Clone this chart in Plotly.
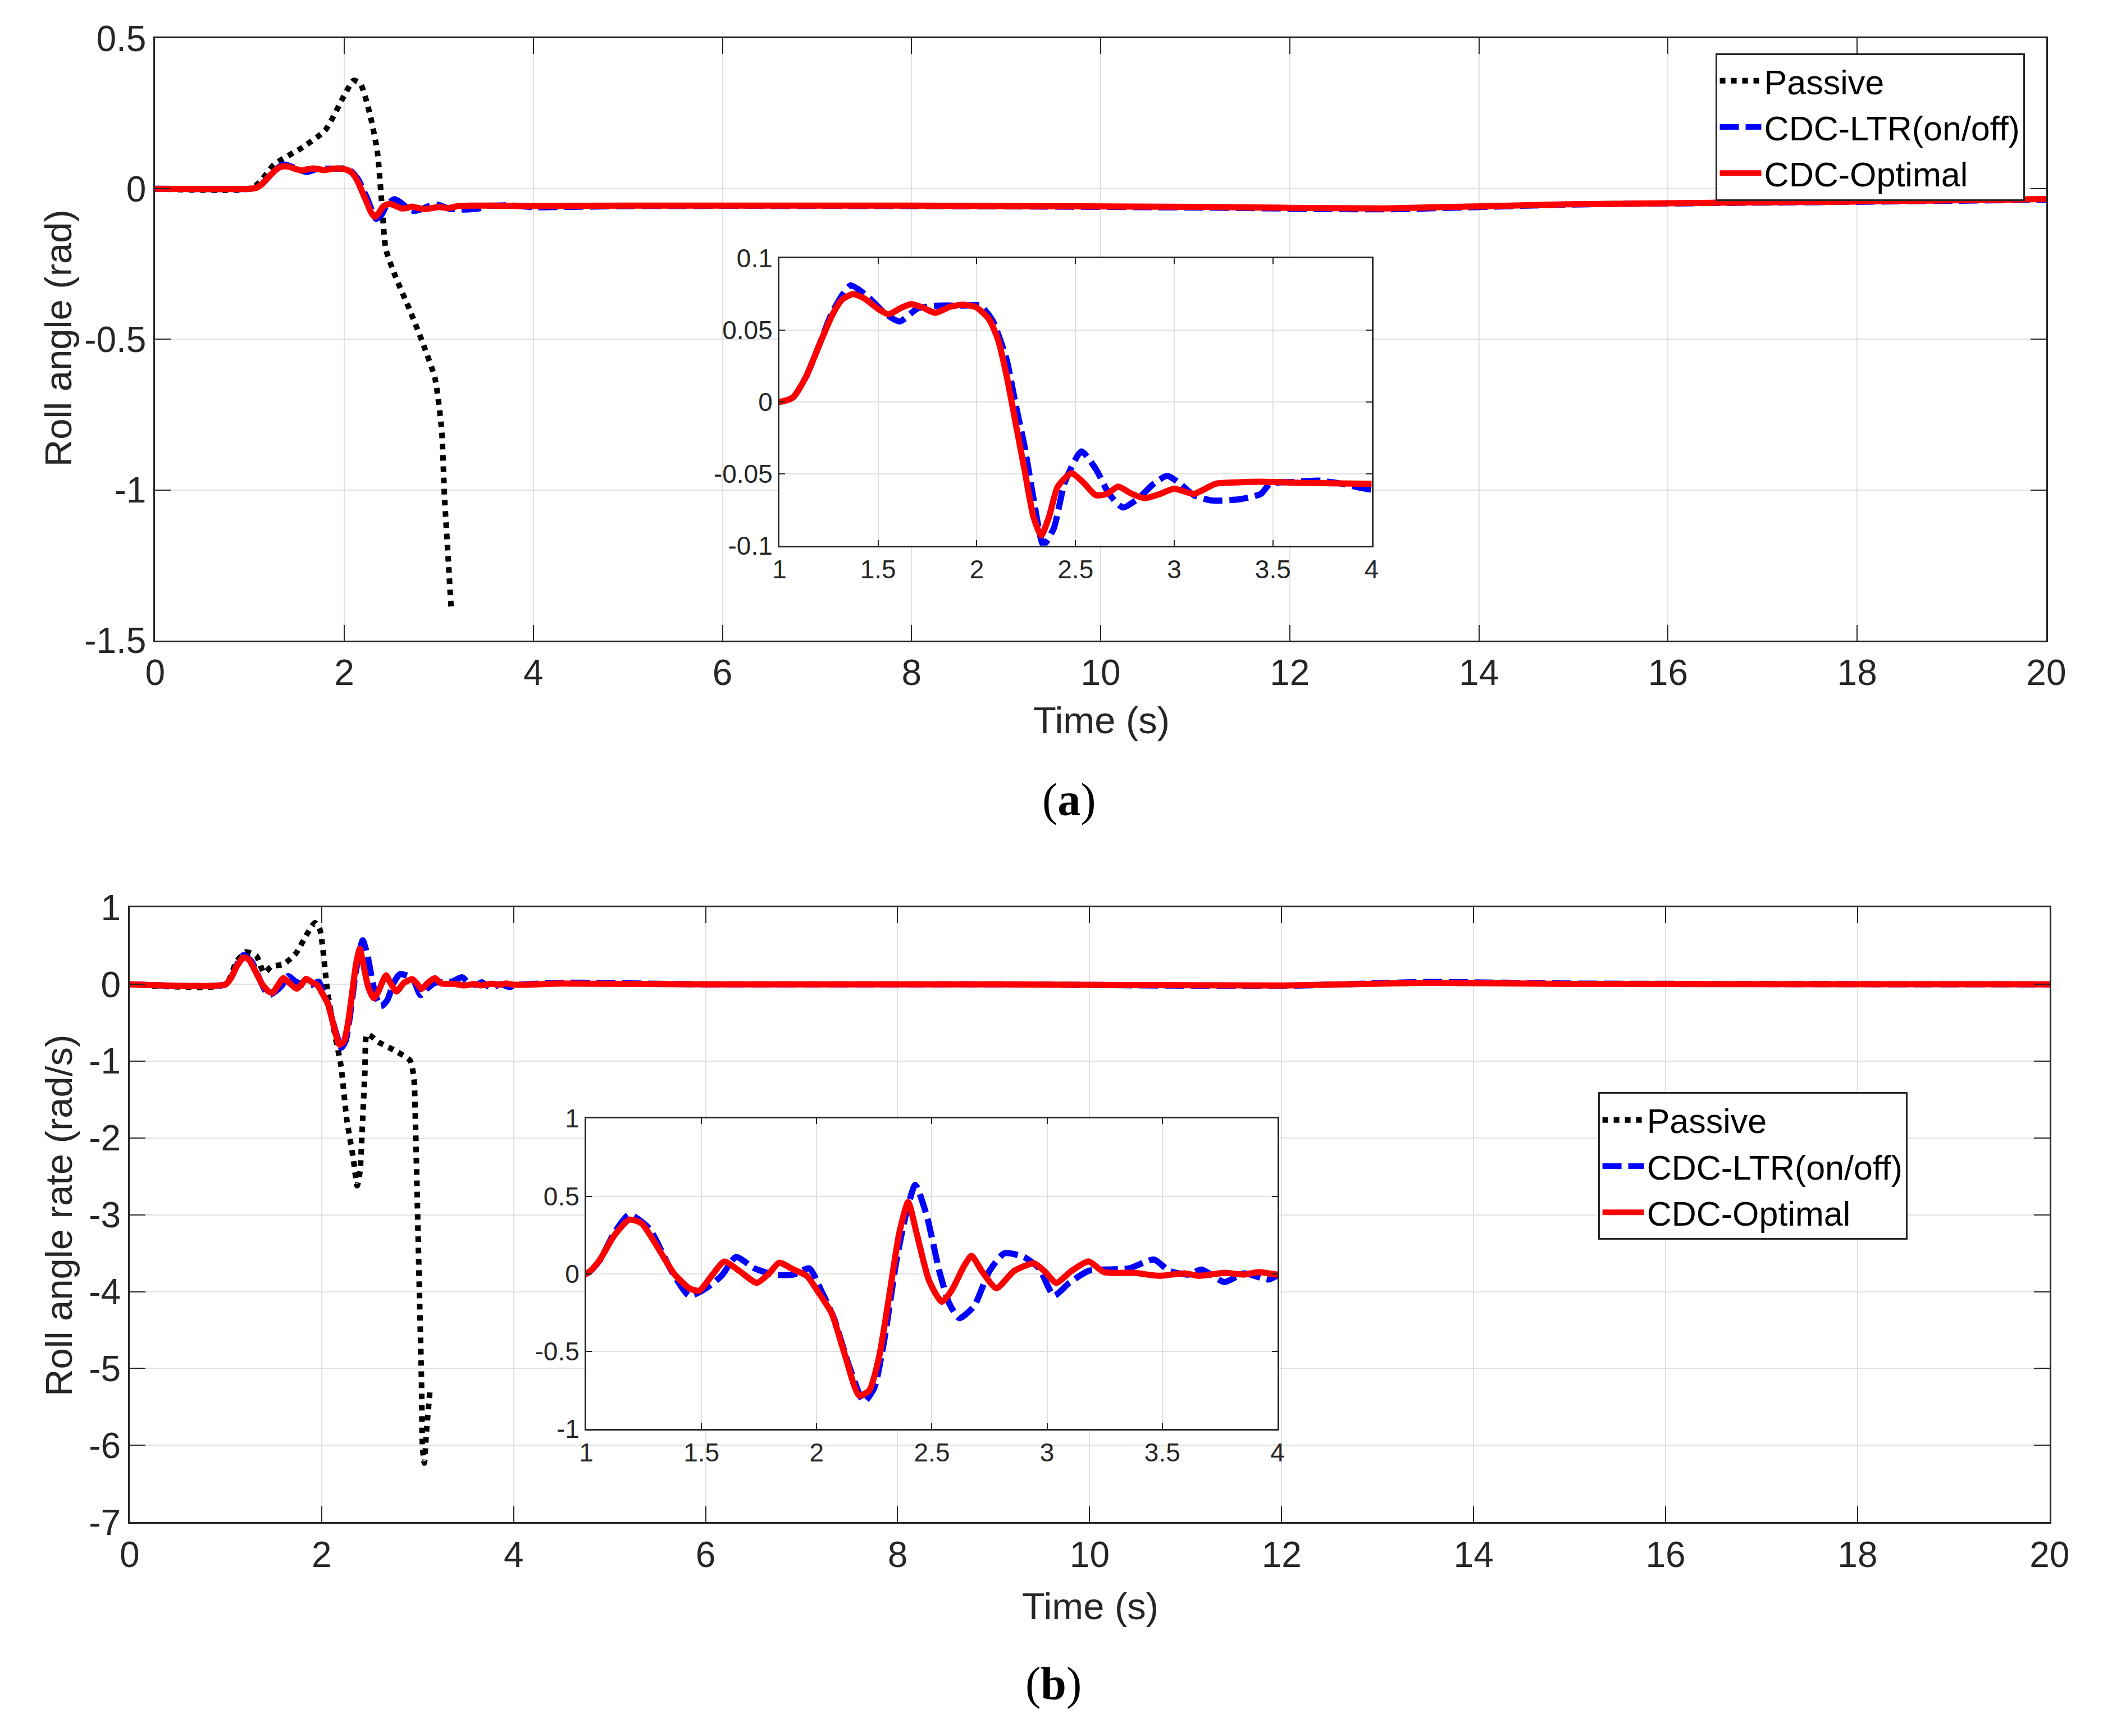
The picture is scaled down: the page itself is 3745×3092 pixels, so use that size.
import plotly.graph_objects as go

# ---------------- data: (a) roll angle ----------------
t_pas_a = [0, 1.0, 1.1, 1.26, 1.56, 1.80, 2.0, 2.10, 2.17, 2.27, 2.35, 2.40, 2.44, 2.54, 2.69, 2.84, 2.96,
           3.03, 3.06, 3.10, 3.13]
roll_pas_a = [0, 0, 0.02, 0.081, 0.138, 0.195, 0.31, 0.36, 0.35, 0.25, 0.124, -0.06, -0.20, -0.29, -0.40,
              -0.52, -0.63, -0.80, -1.02, -1.23, -1.39]

t_ltr_a = [0, 1.0, 1.068, 1.135, 1.20, 1.27, 1.36, 1.45, 1.54, 1.61, 1.70, 1.81, 1.925, 2.016, 2.08, 2.15,
           2.197, 2.242, 2.287, 2.337, 2.39, 2.446, 2.53, 2.604, 2.67, 2.74, 2.82, 2.896, 2.965, 3.03, 3.1,
           3.19, 3.33, 3.44, 3.485, 3.62, 3.73, 3.85, 4.0, 5, 8, 11, 13, 15, 18, 20]
roll_ltr_a = [0, 0, 0.003, 0.0175, 0.039, 0.063, 0.081, 0.073, 0.061, 0.056, 0.065, 0.067, 0.067, 0.067,
              0.0566, 0.030, -0.002, -0.031, -0.067, -0.0995, -0.088, -0.056, -0.0345, -0.047, -0.064,
              -0.0735, -0.067, -0.057, -0.0515, -0.057, -0.065, -0.0686, -0.0678, -0.064, -0.057, -0.0556,
              -0.0548, -0.057, -0.061, -0.057, -0.057, -0.062, -0.068, -0.052, -0.043, -0.036]

t_opt_a = [0, 1.0, 1.068, 1.135, 1.20, 1.27, 1.316, 1.373, 1.43, 1.497, 1.553, 1.61, 1.666, 1.72, 1.79,
           1.86, 1.925, 1.994, 2.06, 2.107, 2.152, 2.197, 2.242, 2.287, 2.326, 2.366, 2.41, 2.48, 2.536,
           2.604, 2.66, 2.716, 2.785, 2.85, 2.92, 3.0, 3.1, 3.21, 3.33, 3.44, 3.66, 4.0, 5, 8, 11, 13, 15,
           18, 20]
roll_opt_a = [0, 0, 0.003, 0.0175, 0.039, 0.061, 0.071, 0.075, 0.072, 0.065, 0.061, 0.065, 0.068, 0.066,
              0.062, 0.066, 0.0676, 0.066, 0.058, 0.0435, 0.0175, -0.015, -0.0475, -0.08, -0.093, -0.080,
              -0.059, -0.0497, -0.0556, -0.065, -0.064, -0.059, -0.064, -0.067, -0.0645, -0.0605, -0.064,
              -0.057, -0.056, -0.0556, -0.0564, -0.057, -0.056, -0.056, -0.060, -0.065, -0.051, -0.042,
              -0.034]

# ---------------- data: (b) roll angle rate ----------------
t_pas_b = [0, 1.0, 1.11, 1.21, 1.32, 1.40, 1.48, 1.60, 1.73, 1.85, 1.93, 1.98, 2.06, 2.14, 2.20, 2.26,
           2.33, 2.37, 2.40, 2.42, 2.45, 2.47, 2.51, 2.59, 2.76, 2.92, 2.96, 2.98, 3.0, 3.02, 3.04, 3.05,
           3.07, 3.09, 3.13]
rate_pas_b = [0, 0, 0.29, 0.42, 0.37, 0.15, 0.235, 0.26, 0.40, 0.66, 0.80, 0.72, -0.085, -0.67, -1.05,
              -1.74, -2.27, -2.62, -2.43, -1.95, -1.15, -0.65, -0.67, -0.75, -0.86, -0.99, -1.21, -1.95,
              -3.02, -4.09, -5.16, -6.01, -6.23, -5.85, -5.26]

t_ltr_b = [0, 1.0, 1.06, 1.12, 1.187, 1.273, 1.37, 1.447, 1.52, 1.587, 1.65, 1.73, 1.816, 1.90, 1.968,
           2.02, 2.075, 2.14, 2.205, 2.25, 2.293, 2.348, 2.391, 2.428, 2.478, 2.532, 2.575, 2.62, 2.684,
           2.75, 2.815, 2.90, 2.965, 3.03, 3.094, 3.18, 3.247, 3.356, 3.464, 3.53, 3.616, 3.67, 3.77,
           3.855, 3.96, 4.0, 4.5, 6, 9, 12, 13.5, 15, 20]
rate_ltr_b = [0, 0, 0.09, 0.26, 0.381, 0.292, 0.019, -0.141, -0.093, -0.013, 0.108, 0.035, -0.005,
              -0.005, 0.035, -0.109, -0.286, -0.591, -0.824, -0.735, -0.43, 0.1, 0.405, 0.573, 0.373,
              0.019, -0.19, -0.286, -0.206, 0.019, 0.132, 0.108, 0.035, -0.141, -0.061, 0.019, 0.027,
              0.035, 0.092, 0.019, -0.005, 0.027, -0.053, 0.003, -0.037, -0.013, 0.02, 0.0, 0.0, -0.02,
              0.03, 0.01, 0.0]

t_opt_b = [0, 1.0, 1.056, 1.12, 1.187, 1.24, 1.306, 1.38, 1.447, 1.49, 1.544, 1.599, 1.664, 1.74, 1.794,
           1.837, 1.90, 1.957, 2.01, 2.065, 2.12, 2.184, 2.228, 2.27, 2.315, 2.358, 2.397, 2.434, 2.488,
           2.543, 2.585, 2.64, 2.672, 2.716, 2.78, 2.857, 2.943, 2.987, 3.04, 3.106, 3.18, 3.247, 3.377,
           3.486, 3.595, 3.66, 3.77, 3.855, 3.92, 4.0, 4.5, 6, 9, 12, 13.5, 15, 20]
rate_opt_b = [0, 0, 0.084, 0.244, 0.349, 0.325, 0.18, 0.003, -0.093, -0.109, -0.013, 0.079, 0.019,
              -0.058, 0.003, 0.071, 0.027, -0.013, -0.125, -0.254, -0.51, -0.784, -0.752, -0.542,
              -0.141, 0.26, 0.461, 0.26, -0.045, -0.18, -0.109, 0.051, 0.116, 0.019, -0.093, 0.019,
              0.067, 0.019, -0.058, 0.019, 0.080, 0.011, 0.006, -0.013, 0.003, -0.013, 0.006, -0.005,
              0.011, -0.005, 0.01, 0.0, 0.0, -0.015, 0.02, 0.005, 0.0]

# tick labels (MATLAB style, plain hyphen minus)
ya_vals = [0.5, 0, -0.5, -1, -1.5]
ya_text = ["0.5", "0", "-0.5", "-1", "-1.5"]
yai_vals = [0.1, 0.05, 0, -0.05, -0.1]
yai_text = ["0.1", "0.05", "0", "-0.05", "-0.1"]
yb_vals = [1, 0, -1, -2, -3, -4, -5, -6, -7]
yb_text = ["1", "0", "-1", "-2", "-3", "-4", "-5", "-6", "-7"]
ybi_vals = [1, 0.5, 0, -0.5, -1]
ybi_text = ["1", "0.5", "0", "-0.5", "-1"]
x_vals = [0, 2, 4, 6, 8, 10, 12, 14, 16, 18, 20]
xi_vals = [1, 1.5, 2, 2.5, 3, 3.5, 4]

W, H = 3745, 3092
FONT = "Liberation Sans, Arial, Helvetica, sans-serif"
AXC = "#262626"
GRID = "#e0e0e0"

fig = go.Figure()


def add_set(t_p, y_p, t_l, y_l, t_o, y_o, xa, ya, legend, show, lw):
    if t_p is not None:
        fig.add_trace(go.Scatter(x=t_p, y=y_p, mode="lines", name="Passive", xaxis=xa, yaxis=ya,
                                 legend=legend, showlegend=show,
                                 line=dict(color="black", width=10, dash="10px,10px", shape="spline",
                                           smoothing=0.6)))
    fig.add_trace(go.Scatter(x=t_l, y=y_l, mode="lines", name="CDC-LTR(on/off)", xaxis=xa, yaxis=ya,
                             legend=legend, showlegend=show,
                             line=dict(color="#0000ff", width=lw, dash="34px,12px", shape="spline",
                                       smoothing=0.6)))
    fig.add_trace(go.Scatter(x=t_o, y=y_o, mode="lines", name="CDC-Optimal", xaxis=xa, yaxis=ya,
                             legend=legend, showlegend=show,
                             line=dict(color="#ff0000", width=lw, shape="spline", smoothing=0.6)))


# (a) main + inset
add_set(t_pas_a, roll_pas_a, t_ltr_a, roll_ltr_a, t_opt_a, roll_opt_a, "x", "y", "legend", True, 11)
add_set(None, None, t_ltr_a, roll_ltr_a, t_opt_a, roll_opt_a, "x2", "y2", "legend", False, 11)
# (b) main + inset
add_set(t_pas_b, rate_pas_b, t_ltr_b, rate_ltr_b, t_opt_b, rate_opt_b, "x3", "y3", "legend2", True, 11)
add_set(None, None, t_ltr_b, rate_ltr_b, t_opt_b, rate_opt_b, "x4", "y4", "legend2", False, 11)


def ax(domain, rng, vals, text, anchor, size, ticklen):
    return dict(domain=domain, range=rng, tickvals=vals, ticktext=text, anchor=anchor,
                showline=True, linecolor=AXC, linewidth=3, mirror="ticks",
                ticks="inside", ticklen=ticklen, tickwidth=2, tickcolor=AXC,
                showgrid=True, gridcolor=GRID, gridwidth=2, zeroline=False,
                tickfont=dict(family=FONT, size=size, color=AXC), fixedrange=True)


def px_x(a, b):
    return [a / W, b / W]


def px_y(top, bottom):
    return [1 - bottom / H, 1 - top / H]


leg_common = dict(xanchor="left", yanchor="top", bgcolor="white", bordercolor=AXC, borderwidth=3,
                  itemwidth=74, tracegroupgap=0,
                  font=dict(family=FONT, size=61, color="black"))

fig.update_layout(
    width=W, height=H, autosize=False,
    margin=dict(l=0, r=0, t=0, b=0),
    paper_bgcolor="white", plot_bgcolor="white",
    xaxis=ax(px_x(262, 3679), [0, 20], x_vals, [str(v) for v in x_vals], "y", 64, 28),
    yaxis=ax(px_y(33, 1131), [-1.5, 0.5], ya_vals, ya_text, "x", 64, 28),
    xaxis2=ax(px_x(1390, 2460), [1, 4], xi_vals, [f"{v:g}" for v in xi_vals], "y2", 46, 10),
    yaxis2=ax(px_y(434, 958), [-0.1, 0.1], yai_vals, yai_text, "x2", 46, 10),
    xaxis3=ax(px_x(216, 3685), [0, 20], x_vals, [str(v) for v in x_vals], "y3", 64, 28),
    yaxis3=ax(px_y(1618, 2739), [-7, 1], yb_vals, yb_text, "x3", 64, 28),
    xaxis4=ax(px_x(1041, 2290), [1, 4], xi_vals, [f"{v:g}" for v in xi_vals], "y4", 46, 10),
    yaxis4=ax(px_y(2003, 2569), [-1, 1], ybi_vals, ybi_text, "x4", 46, 10),
    legend=dict(x=3081 / W, y=1 - 60 / H, **leg_common),
    legend2=dict(x=2869 / W, y=1 - 1955 / H, **leg_common),
    showlegend=True,
)

ann_font = dict(family=FONT, size=67, color=AXC)
annotations = [
    dict(text="Roll angle (rad)", x=87 / W, y=1 - 580 / H, textangle=-90, font=ann_font),
    dict(text="Time (s)", x=1972 / W, y=1 - 1276 / H, font=ann_font),
    dict(text="Roll angle rate (rad/s)", x=87 / W, y=1 - 2180 / H, textangle=-90, font=ann_font),
    dict(text="Time (s)", x=1952 / W, y=1 - 2892 / H, font=ann_font),
    dict(text="(<b>a</b>)", x=1914 / W, y=1 - 1422 / H,
         font=dict(family="Liberation Serif, Times New Roman, serif", size=82, color="black")),
    dict(text="(<b>b</b>)", x=1885 / W, y=1 - 3033 / H,
         font=dict(family="Liberation Serif, Times New Roman, serif", size=82, color="black")),
]
for a in annotations:
    a.update(xref="paper", yref="paper", showarrow=False, xanchor="center", yanchor="middle")
fig.update_layout(annotations=annotations)

fig.write_html("out.html", config={"displayModeBar": False},
               post_script="document.body.style.margin='0';document.body.style.overflow='hidden';")
